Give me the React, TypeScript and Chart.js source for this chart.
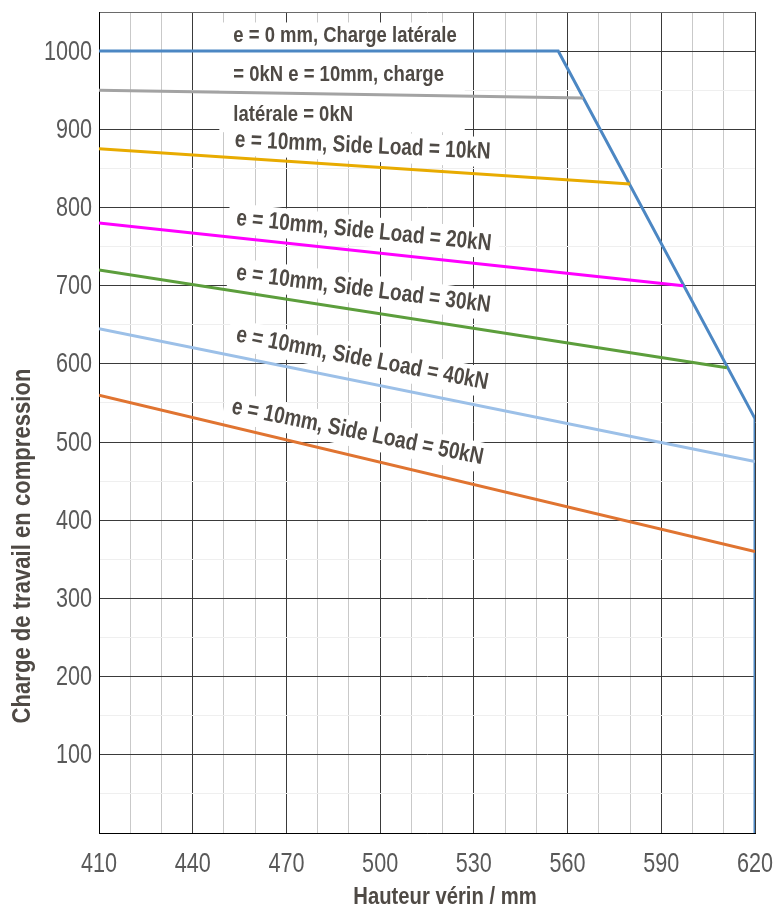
import React, { useEffect, useRef } from "react";
import { Chart, registerables } from "chart.js";

Chart.register(...registerables);

// ---- axis ranges & tick labels ----
const X_MIN = 410;
const X_MAX = 620;
const Y_MIN = 0;
const Y_MAX = 1050;
const xTickLabels = [410, 440, 470, 500, 530, 560, 590, 620];
const yTickLabels = [100, 200, 300, 400, 500, 600, 700, 800, 900, 1000];

// ---- series ----
const limitX = [410, 557, 620, 620];
const limitY = [1000, 1000, 530, 0];
const s0X = [410, 565];
const s0Y = [950, 940];
const s10X = [410, 580];
const s10Y = [875, 830];
const s20X = [410, 597];
const s20Y = [780, 700];
const s30X = [410, 611];
const s30Y = [720, 595];
const s40X = [410, 620];
const s40Y = [645, 475];
const s50X = [410, 620];
const s50Y = [560, 360];

// ---- annotation labels (anchored in data units) ----
const labelTexts = [
  "e = 0 mm, Charge latérale",
  "= 0kN e = 10mm, charge",
  "latérale = 0kN",
  "e = 10mm, Side Load = 10kN",
  "e = 10mm, Side Load = 20kN",
  "e = 10mm, Side Load = 30kN",
  "e = 10mm, Side Load = 40kN",
  "e = 10mm, Side Load = 50kN",
];
const labelX = [453, 453, 453, 453.5, 454, 454, 454, 452.6];
const labelY = [1020, 969, 918, 886, 786, 716, 637, 545];
const labelAngle = [0, 0, 0, 2.7, 5.7, 7.3, 10.8, 11.5];

const FONT = '"Liberation Sans", Arial, sans-serif';
const TEXT_COLOR = "#4f4a45";
const TICK_COLOR = "#595959";

const toPts = (xs: number[], ys: number[]) => xs.map((x, i) => ({ x, y: ys[i] }));

function drawScaled(
  ctx: CanvasRenderingContext2D,
  text: string,
  x: number,
  y: number,
  font: string,
  sx: number,
  align: CanvasTextAlign,
  color: string,
  angleDeg = 0
) {
  ctx.save();
  ctx.translate(x, y);
  ctx.rotate((angleDeg * Math.PI) / 180);
  ctx.scale(sx, 1);
  ctx.font = font;
  ctx.fillStyle = color;
  ctx.textAlign = align;
  ctx.textBaseline = "middle";
  ctx.fillText(text, 0, 0);
  ctx.restore();
}

const labelFont = (i: number) => (i < 3 ? `bold 22px ${FONT}` : `bold 23.5px ${FONT}`);
const labelScale = (i: number) => (i < 3 ? 0.84 : 0.81);

const annotationPlugin = {
  id: "annotations",
  beforeDatasetsDraw(chart: any) {
    const ctx: CanvasRenderingContext2D = chart.ctx;
    const xs = chart.scales.x;
    const ys = chart.scales.y;
    // group box for the first three labels
    let right = 0;
    for (let i = 0; i < 3; i++) {
      ctx.save();
      ctx.font = labelFont(i);
      const w = ctx.measureText(labelTexts[i]).width * labelScale(i);
      ctx.restore();
      right = Math.max(right, xs.getPixelForValue(labelX[i]) + w);
    }
    const gx = xs.getPixelForValue(labelX[0]) - 14;
    const gy = ys.getPixelForValue(labelY[0]) - 13;
    const gb = ys.getPixelForValue(labelY[2]) + 17;
    ctx.save();
    ctx.fillStyle = "#ffffff";
    ctx.fillRect(gx, gy, right + 8 - gx, gb - gy);
    ctx.restore();

    for (let i = 3; i < labelTexts.length; i++) {
      const px = xs.getPixelForValue(labelX[i]);
      const py = ys.getPixelForValue(labelY[i]);
      ctx.save();
      ctx.font = labelFont(i);
      const w = ctx.measureText(labelTexts[i]).width * labelScale(i);
      ctx.translate(px, py);
      ctx.rotate((labelAngle[i] * Math.PI) / 180);
      ctx.fillStyle = "#ffffff";
      ctx.fillRect(-8, -15, w + 16, 30);
      ctx.restore();
    }
    for (let i = 0; i < labelTexts.length; i++) {
      drawScaled(
        ctx,
        labelTexts[i],
        xs.getPixelForValue(labelX[i]),
        ys.getPixelForValue(labelY[i]),
        labelFont(i),
        labelScale(i),
        "left",
        TEXT_COLOR,
        labelAngle[i]
      );
    }
  },
  afterDraw(chart: any) {
    const ctx: CanvasRenderingContext2D = chart.ctx;
    const xs = chart.scales.x;
    const ys = chart.scales.y;
    const area = chart.chartArea;
    const tickFont = `27px ${FONT}`;
    yTickLabels.forEach((v) => {
      drawScaled(ctx, String(v), area.left - 7, ys.getPixelForValue(v) + 1, tickFont, 0.8, "right", TICK_COLOR);
    });
    xTickLabels.forEach((v) => {
      drawScaled(ctx, String(v), xs.getPixelForValue(v), area.bottom + 32, tickFont, 0.8, "center", TICK_COLOR);
    });
    drawScaled(ctx, "Hauteur vérin / mm", 445, 898, `bold 23px ${FONT}`, 0.88, "center", TEXT_COLOR);
    drawScaled(ctx, "Charge de travail en compression", 23, 546, `bold 26px ${FONT}`, 0.85, "center", TEXT_COLOR, -90);
  },
};

export default function App() {
  const canvasRef = useRef<HTMLCanvasElement | null>(null);

  useEffect(() => {
    if (!canvasRef.current) return;
    const line = (data: { x: number; y: number }[], color: string, width = 3) => ({
      data,
      borderColor: color,
      backgroundColor: color,
      borderWidth: width,
      pointRadius: 0,
      tension: 0,
      fill: false,
    });
    const chart = new Chart(canvasRef.current, {
      type: "line",
      data: {
        datasets: [
          line(toPts(s50X, s50Y), "#e07431"),
          line(toPts(s40X, s40Y), "#9cc0e8"),
          line(toPts(s30X, s30Y), "#5c9e3c"),
          line(toPts(s20X, s20Y), "#ff00ff"),
          line(toPts(s10X, s10Y), "#e8ab00"),
          line(toPts(s0X, s0Y), "#a3a3a3"),
          line(toPts(limitX, limitY), "#4c87c3"),
        ] as any,
      },
      options: {
        responsive: false,
        animation: false,
        devicePixelRatio: 1,
        layout: { padding: { left: 99, right: 19, top: 12, bottom: 80 } },
        plugins: { legend: { display: false }, tooltip: { enabled: false } },
        scales: {
          x: {
            type: "linear",
            min: X_MIN,
            max: X_MAX,
            ticks: { display: false, stepSize: 10 },
            grid: {
              drawTicks: false,
              lineWidth: 1,
              color: (c: any) => {
                const v = c.tick?.value;
                return (v - X_MIN) % 30 === 0 ? "#3a3a3a" : "#c9c9c9";
              },
            },
            border: { display: true, color: "#000000", width: 1 },
          },
          y: {
            type: "linear",
            min: Y_MIN,
            max: Y_MAX,
            ticks: { display: false, stepSize: 50 },
            grid: {
              drawTicks: false,
              lineWidth: 1,
              color: (c: any) => {
                const v = c.tick?.value;
                if (v === Y_MAX) return "#6a6a6a";
                return v % 100 === 0 ? "#3a3a3a" : "#efefef";
              },
            },
            border: { display: true, color: "#000000", width: 1 },
          },
        },
      } as any,
      plugins: [annotationPlugin],
    });
    return () => chart.destroy();
  }, []);

  return (
    <div style={{ position: "absolute", left: 0, top: 0, width: 774, height: 913, background: "#ffffff" }}>
      <canvas ref={canvasRef} width={774} height={913} style={{ display: "block" }} />
    </div>
  );
}
